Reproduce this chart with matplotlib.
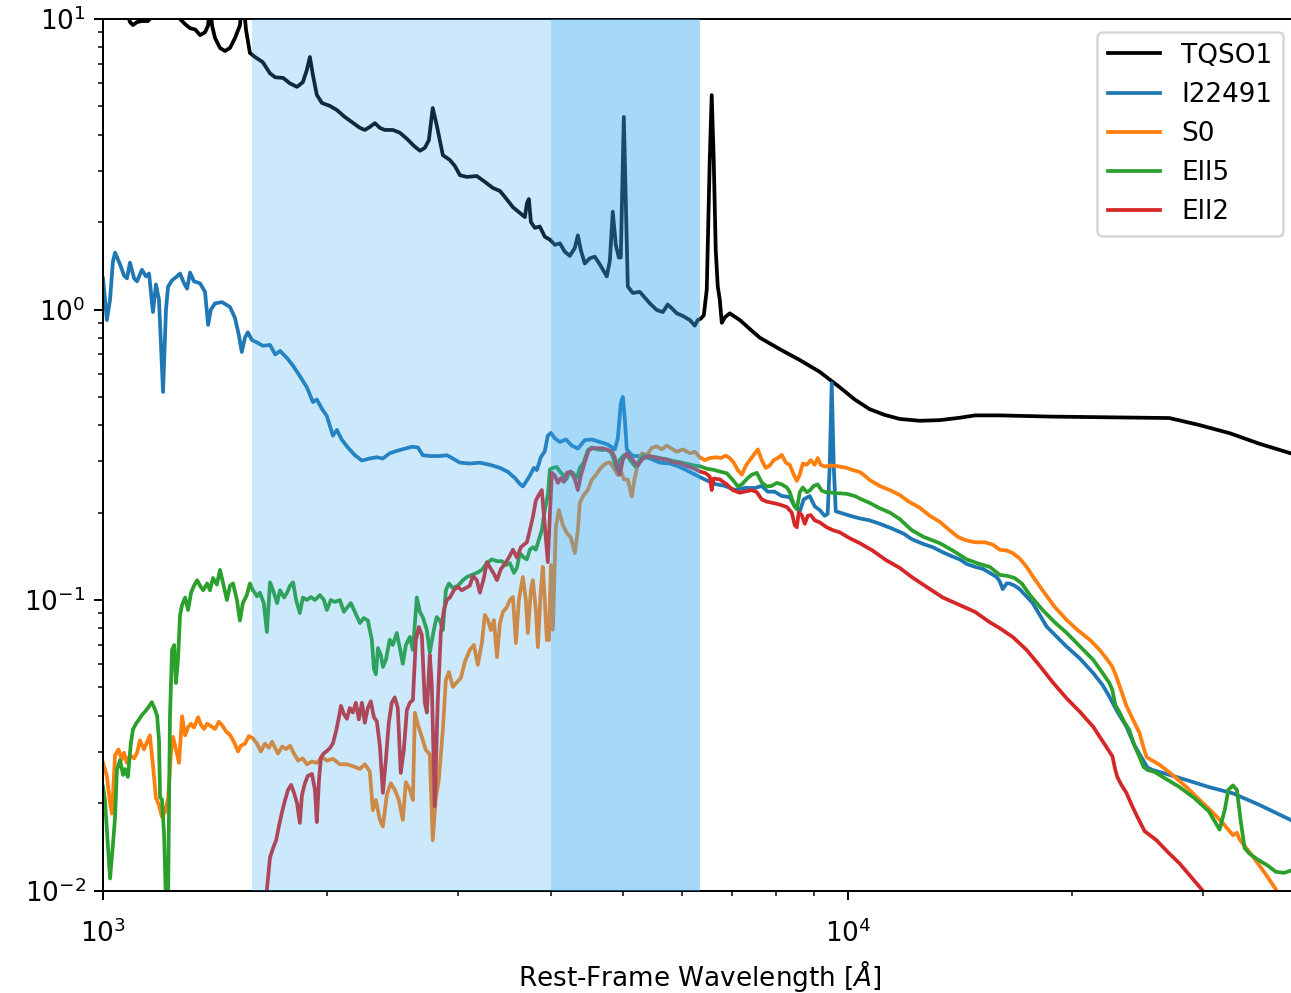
import matplotlib
matplotlib.use("Agg")
import matplotlib.pyplot as plt

plt.rcParams["font.size"] = 10.5

# Template SEDs (rest-frame wavelength in Angstrom, flux in arbitrary units)
wave_tqso1 = [1000, 1022, 1049, 1070, 1087, 1097, 1111, 1128, 1149, 1156, 1174, 1211, 1250, 1269,
              1289, 1309, 1330, 1350, 1371, 1384, 1392, 1401, 1414, 1436, 1458, 1481, 1504, 1527,
              1541, 1556, 1575, 1600, 1639, 1676, 1703, 1745, 1783, 1822, 1855, 1878, 1896, 1914,
              1937, 1968, 2017, 2061, 2112, 2158, 2213, 2247, 2282, 2318, 2354, 2390, 2450, 2504,
              2559, 2615, 2664, 2705, 2739, 2772, 2806, 2860, 2923, 2968, 3015, 3080, 3177, 3257,
              3339, 3412, 3465, 3552, 3629, 3686, 3709, 3731, 3755, 3802, 3860, 3920, 3982, 4044,
              4107, 4171, 4236, 4302, 4342, 4382, 4436, 4505, 4575, 4647, 4748, 4793, 4837, 4882,
              4928, 4958, 5005, 5035, 5067, 5145, 5259, 5340, 5424, 5542, 5646, 5733, 5805, 5896,
              6007, 6138, 6233, 6291, 6349, 6409, 6468, 6528, 6568, 6609, 6650, 6692, 6734, 6776,
              6840, 6945, 7164, 7389, 7620, 8107, 8624, 9172, 9757, 10220, 10700, 11200, 11745,
              12490, 13290, 14140, 14830, 16000, 18660, 21800, 27050, 29690, 32600, 35730, 39330]
flux_tqso1 = [12.5, 13.0, 12.0, 11.0, 9.76, 9.53, 9.76, 9.84, 9.84, 10.0, 10.8, 11.5, 10.6, 10.0,
              9.6, 9.3, 9.2, 8.8, 9.0, 9.5, 11.5, 9.5, 8.6, 7.95, 7.76, 7.95, 8.6, 9.5,
              12.0, 9.2, 7.64, 7.4, 7.1, 6.5, 6.3, 6.27, 6.0, 5.84, 6.06, 6.67, 7.4, 6.4,
              5.48, 5.14, 5.02, 4.86, 4.6, 4.42, 4.22, 4.15, 4.25, 4.38, 4.22, 4.15, 4.15, 4.06,
              3.87, 3.66, 3.52, 3.60, 3.83, 4.94, 4.32, 3.40, 3.27, 3.12, 2.90, 2.86, 2.88, 2.75,
              2.62, 2.56, 2.44, 2.25, 2.15, 2.08, 2.32, 2.40, 2.0, 1.91, 1.93, 1.78, 1.74, 1.67,
              1.69, 1.58, 1.53, 1.63, 1.80, 1.60, 1.44, 1.50, 1.52, 1.43, 1.30, 1.47, 2.17, 1.67,
              1.51, 1.51, 4.6, 2.38, 1.20, 1.14, 1.15, 1.10, 1.05, 0.996, 0.98, 1.04, 1.01, 0.97,
              0.95, 0.92, 0.88, 0.92, 0.93, 0.955, 1.17, 3.27, 5.47, 3.27, 1.6, 1.2, 1.08, 0.9,
              0.94, 0.97, 0.92, 0.857, 0.80, 0.73, 0.67, 0.61, 0.54, 0.49, 0.454, 0.434, 0.42,
              0.414, 0.416, 0.424, 0.432, 0.432, 0.428, 0.426, 0.423, 0.40, 0.375, 0.345, 0.32]

wave_i22491 = [1000, 1012, 1022, 1031, 1038, 1054, 1067, 1077, 1087, 1101, 1111, 1128, 1142, 1153,
               1167, 1178, 1189, 1204, 1215, 1223, 1238, 1257, 1269, 1285, 1297, 1309, 1325, 1350,
               1371, 1384, 1396, 1414, 1445, 1481, 1504, 1522, 1536, 1551, 1565, 1585, 1610, 1639,
               1676, 1703, 1729, 1767, 1800, 1838, 1878, 1914, 1937, 1968, 1998, 2036, 2061, 2093,
               2132, 2179, 2227, 2282, 2332, 2376, 2427, 2480, 2543, 2599, 2648, 2688, 2747, 2834,
               2896, 2950, 3015, 3109, 3207, 3308, 3412, 3498, 3574, 3629, 3663, 3709, 3743, 3790,
               3825, 3872, 3920, 3957, 3995, 4044, 4107, 4184, 4262, 4342, 4436, 4533, 4647, 4763,
               4867, 4913, 4958, 4989, 5020, 5051, 5145, 5291, 5424, 5594, 5770, 5951, 6138, 6330,
               6488, 6630, 6840, 7063, 7276, 7510, 7666, 7810, 7976, 8157, 8361, 8490, 8624, 8731,
               8893, 9032, 9172, 9315, 9400, 9460, 9519, 9578, 9638, 9818, 10070, 10378, 10700,
               11040, 11480, 11900, 12190, 12620, 13010, 13420, 13840, 14140, 14450, 14840, 15190,
               15520, 15850, 16000, 16150, 16350, 16500, 16760, 17020, 17720, 18500, 19690, 20490,
               21370, 21990, 22460, 23020, 23670, 24250, 24890, 25270, 25660, 27050, 28510, 30560,
               32910, 35730, 39330]
flux_i22491 = [1.28, 0.92, 1.08, 1.46, 1.57, 1.43, 1.31, 1.28, 1.45, 1.28, 1.25, 1.37, 1.30, 1.33,
               0.98, 1.22, 1.08, 0.52, 1.0, 1.20, 1.26, 1.30, 1.33, 1.23, 1.18, 1.34, 1.25, 1.23,
               1.15, 0.885, 1.0, 1.05, 1.06, 1.02, 0.935, 0.817, 0.714, 0.80, 0.835, 0.785, 0.77, 0.75,
               0.755, 0.70, 0.72, 0.68, 0.64, 0.59, 0.54, 0.48, 0.49, 0.455, 0.43, 0.368, 0.385, 0.356,
               0.335, 0.315, 0.302, 0.307, 0.31, 0.307, 0.32, 0.326, 0.332, 0.337, 0.335, 0.315, 0.313, 0.313,
               0.315, 0.307, 0.297, 0.295, 0.297, 0.292, 0.285, 0.276, 0.263, 0.251, 0.246, 0.258, 0.268, 0.285,
               0.280, 0.31, 0.325, 0.368, 0.376, 0.36, 0.35, 0.357, 0.34, 0.332, 0.355, 0.357, 0.35, 0.343,
               0.33, 0.36, 0.475, 0.50, 0.42, 0.33, 0.313, 0.313, 0.307, 0.297, 0.295, 0.287, 0.276, 0.265,
               0.257, 0.251, 0.247, 0.239, 0.243, 0.243, 0.247, 0.236, 0.236, 0.228, 0.226, 0.21, 0.202, 0.222,
               0.228, 0.21, 0.204, 0.195, 0.198, 0.29, 0.558, 0.29, 0.202, 0.199, 0.195, 0.191, 0.188,
               0.183, 0.176, 0.169, 0.162, 0.156, 0.152, 0.146, 0.141, 0.138, 0.133, 0.130, 0.128,
               0.124, 0.12, 0.116, 0.109, 0.114, 0.114, 0.112, 0.109, 0.0976, 0.081, 0.069, 0.063,
               0.056, 0.051, 0.0465, 0.0413, 0.0367, 0.0318, 0.0283, 0.0265, 0.026, 0.025, 0.024, 0.0227,
               0.0216, 0.0197, 0.0175]

wave_s0 = [1000, 1012, 1022, 1028, 1038, 1049, 1060, 1067, 1077, 1087, 1101, 1111, 1121, 1135,
           1146, 1156, 1167, 1178, 1189, 1200, 1211, 1223, 1234, 1242, 1253, 1265, 1277, 1289,
           1301, 1313, 1325, 1342, 1354, 1367, 1380, 1396, 1414, 1431, 1445, 1463, 1481, 1499,
           1518, 1531, 1551, 1570, 1590, 1610, 1629, 1650, 1670, 1687, 1703, 1718, 1740, 1762,
           1783, 1805, 1828, 1855, 1878, 1908, 1937, 1968, 1998, 2036, 2080, 2126, 2165, 2213,
           2247, 2282, 2303, 2325, 2354, 2376, 2405, 2435, 2465, 2496, 2527, 2551, 2583, 2607,
           2623, 2648, 2680, 2713, 2747, 2772, 2797, 2824, 2860, 2887, 2914, 2950, 2987, 3024,
           3061, 3109, 3148, 3187, 3227, 3257, 3287, 3318, 3349, 3381, 3412, 3444, 3487, 3519,
           3552, 3585, 3618, 3663, 3697, 3720, 3755, 3778, 3813, 3837, 3872, 3896, 3920, 3945,
           3970, 3995, 4019, 4056, 4094, 4145, 4197, 4249, 4302, 4342, 4368, 4422, 4477, 4533,
           4604, 4661, 4733, 4793, 4852, 4913, 4958, 5005, 5067, 5129, 5177, 5226, 5291, 5373,
           5457, 5542, 5628, 5715, 5805, 5896, 6007, 6138, 6233, 6330, 6429, 6528, 6650, 6755,
           6860, 6945, 7031, 7119, 7209, 7300, 7389, 7480, 7575, 7666, 7762, 7858, 7955, 8058,
           8157, 8259, 8361, 8465, 8545, 8624, 8704, 8812, 8920, 9032, 9115, 9200, 9315, 9460,
           9608, 9757, 9970, 10160, 10378, 10540, 10700, 11040, 11390, 11745, 12080, 12490, 12890,
           13290, 13700, 14060, 14360, 14830, 15280, 15670, 16000, 16350, 16660, 17020, 17390,
           17830, 18270, 18970, 19690, 20360, 21160, 21800, 22330, 22670, 22950, 23310, 23670,
           24110, 24660, 24970, 25200, 25660, 26230, 27300, 28510, 29690, 30900, 32000, 32910,
           33320, 33590, 35000, 36400, 37580, 38550]
flux_s0 = [0.0275, 0.0248, 0.020, 0.0184, 0.0292, 0.0306, 0.0282, 0.0298, 0.0275, 0.0292, 0.0285, 0.0298, 0.0329, 0.0306,
           0.0325, 0.0342, 0.027, 0.0208, 0.0197, 0.0179, 0.0186, 0.0208, 0.0298, 0.0338, 0.0306, 0.0275, 0.0398, 0.0342,
           0.0365, 0.0375, 0.0364, 0.0395, 0.0371, 0.036, 0.0375, 0.0368, 0.036, 0.0381, 0.0371, 0.0353, 0.0343, 0.0325,
           0.0301, 0.0315, 0.032, 0.034, 0.0334, 0.032, 0.0301, 0.032, 0.031, 0.0325, 0.0309, 0.0296, 0.0313, 0.0307,
           0.0315, 0.0296, 0.028, 0.0285, 0.0272, 0.0278, 0.0275, 0.0288, 0.028, 0.0284, 0.0272, 0.0272, 0.0268, 0.0262,
           0.0272, 0.0257, 0.0189, 0.0205, 0.0175, 0.0166, 0.0213, 0.0234, 0.0222, 0.0205, 0.0175, 0.0236, 0.0222, 0.0205,
           0.0409, 0.0372, 0.0338, 0.0305, 0.0294, 0.0149, 0.0205, 0.024, 0.0357, 0.0531, 0.0565, 0.0502, 0.0521, 0.0539,
           0.0612, 0.0673, 0.070, 0.0598, 0.0713, 0.0888, 0.0853, 0.0788, 0.0853, 0.0636, 0.0831, 0.0909, 0.0946, 0.1,
           0.1024, 0.0711, 0.1, 0.12, 0.1, 0.077, 0.108, 0.117, 0.0924, 0.0689, 0.108, 0.13, 0.1, 0.0728,
           0.0728, 0.1318, 0.079, 0.178, 0.204, 0.181, 0.17, 0.164, 0.145, 0.174, 0.216, 0.23, 0.239, 0.259,
           0.272, 0.285, 0.295, 0.298, 0.285, 0.269, 0.28, 0.26, 0.26, 0.227, 0.263, 0.293, 0.32, 0.315,
           0.334, 0.338, 0.33, 0.34, 0.332, 0.324, 0.33, 0.32, 0.324, 0.31, 0.303, 0.308, 0.31, 0.308,
           0.314, 0.308, 0.297, 0.28, 0.27, 0.29, 0.303, 0.316, 0.33, 0.303, 0.285, 0.29, 0.303, 0.308,
           0.316, 0.297, 0.292, 0.27, 0.257, 0.27, 0.295, 0.292, 0.303, 0.292, 0.308, 0.292, 0.288, 0.29,
           0.29, 0.288, 0.285, 0.28, 0.276, 0.268, 0.259, 0.247, 0.239, 0.23, 0.218, 0.208, 0.195,
           0.186, 0.174, 0.165, 0.161, 0.158, 0.158, 0.155, 0.149, 0.148, 0.145, 0.139, 0.13,
           0.118, 0.108, 0.0946, 0.0853, 0.0788, 0.0728, 0.0673, 0.0622, 0.0589, 0.0545, 0.0486, 0.0433,
           0.0392, 0.0348, 0.031, 0.0288, 0.028, 0.0271, 0.025, 0.0227, 0.0205, 0.0186, 0.0169, 0.0155,
           0.0158, 0.015, 0.0131, 0.0114, 0.0101, 0.009]

wave_ell5 = [1000, 1006, 1012, 1022, 1031, 1038, 1044, 1054, 1064, 1070, 1080, 1090, 1097, 1107,
             1118, 1128, 1139, 1149, 1156, 1163, 1174, 1182, 1189, 1193, 1200, 1208, 1215, 1223,
             1230, 1238, 1246, 1253, 1261, 1269, 1277, 1289, 1301, 1313, 1325, 1338, 1350, 1363,
             1380, 1392, 1405, 1422, 1436, 1450, 1467, 1481, 1495, 1513, 1527, 1541, 1560, 1575,
             1590, 1610, 1624, 1644, 1660, 1676, 1692, 1713, 1729, 1751, 1767, 1783, 1800, 1817,
             1838, 1855, 1878, 1902, 1926, 1956, 1980, 1998, 2023, 2048, 2080, 2106, 2126, 2152,
             2179, 2213, 2240, 2268, 2296, 2311, 2325, 2340, 2361, 2376, 2398, 2427, 2450, 2480,
             2504, 2527, 2551, 2583, 2607, 2639, 2664, 2688, 2722, 2747, 2781, 2806, 2834, 2860,
             2887, 2914, 2950, 2996, 3043, 3080, 3128, 3177, 3227, 3277, 3329, 3381, 3433, 3476,
             3519, 3563, 3596, 3629, 3674, 3709, 3743, 3778, 3813, 3848, 3884, 3920, 3957, 3982,
             4019, 4069, 4107, 4145, 4184, 4223, 4275, 4329, 4368, 4422, 4477, 4533, 4604, 4676,
             4748, 4808, 4852, 4898, 4943, 5005, 5067, 5129, 5193, 5259, 5324, 5407, 5509, 5594,
             5715, 5823, 5951, 6100, 6233, 6330, 6468, 6589, 6734, 6881, 7010, 7119, 7209, 7344,
             7434, 7551, 7666, 7786, 7906, 8032, 8157, 8284, 8361, 8465, 8545, 8624, 8704, 8812,
             8893, 9004, 9115, 9229, 9343, 9460, 9608, 9757, 9970, 10220, 10440, 10700, 11040,
             11390, 11745, 12190, 12640, 13290, 13840, 14450, 15040, 15520, 16000, 16400, 16760,
             17130, 17570, 18270, 18970, 19690, 20490, 21370, 21990, 22460, 22670, 22880, 23170,
             23530, 23890, 24250, 24660, 24970, 25270, 25820, 26630, 27900, 29220, 30560, 31580,
             32100, 32450, 32910, 33320, 33700, 34120, 34630, 35500, 36620, 37580, 38550, 39330]
flux_ell5 = [0.0228, 0.0205, 0.0162, 0.011, 0.0143, 0.0179, 0.026, 0.0281, 0.025, 0.0262, 0.0246, 0.0322, 0.0358, 0.0375,
             0.0388, 0.0402, 0.0413, 0.0425, 0.0435, 0.0445, 0.0421, 0.0400, 0.0330, 0.0209, 0.0206, 0.0155, 0.009, 0.0095,
             0.0395, 0.0673, 0.070, 0.0518, 0.0622, 0.0888, 0.0961, 0.102, 0.0924, 0.106, 0.112, 0.117, 0.112, 0.108,
             0.114, 0.108, 0.119, 0.113, 0.127, 0.114, 0.1, 0.112, 0.114, 0.1, 0.085, 0.0976, 0.104, 0.114,
             0.108, 0.103, 0.106, 0.0976, 0.0776, 0.115, 0.108, 0.0976, 0.108, 0.102, 0.106, 0.112, 0.115, 0.1,
             0.0902, 0.102, 0.1, 0.1024, 0.1, 0.104, 0.1, 0.0924, 0.1, 0.0985, 0.1, 0.091, 0.094, 0.0976,
             0.091, 0.0833, 0.0867, 0.085, 0.073, 0.058, 0.0555, 0.0683, 0.0647, 0.0588, 0.0622, 0.073, 0.07, 0.077,
             0.0683, 0.0603, 0.07, 0.0746, 0.0673, 0.102, 0.091, 0.0873, 0.0788, 0.066, 0.0788, 0.0873, 0.085, 0.0788,
             0.108, 0.114, 0.11, 0.112, 0.117, 0.12, 0.122, 0.124, 0.127, 0.134, 0.138, 0.136, 0.136, 0.132,
             0.134, 0.124, 0.129, 0.145, 0.14, 0.138, 0.149, 0.152, 0.149, 0.161, 0.174, 0.204, 0.23, 0.281,
             0.285, 0.287, 0.277, 0.27, 0.259, 0.272, 0.274, 0.263, 0.285, 0.298, 0.328, 0.335, 0.33, 0.328,
             0.33, 0.323, 0.304, 0.281, 0.304, 0.315, 0.311, 0.298, 0.287, 0.304, 0.315, 0.311, 0.311, 0.308,
             0.305, 0.301, 0.298, 0.294, 0.29, 0.289, 0.283, 0.281, 0.277, 0.273, 0.259, 0.246, 0.25, 0.263,
             0.27, 0.274, 0.254, 0.246, 0.247, 0.253, 0.25, 0.244, 0.235, 0.213, 0.205, 0.235, 0.244, 0.235,
             0.238, 0.247, 0.25, 0.238, 0.235, 0.235, 0.233, 0.233, 0.232, 0.228, 0.222, 0.216, 0.207,
             0.2, 0.19, 0.174, 0.165, 0.157, 0.148, 0.138, 0.133, 0.13, 0.122, 0.121, 0.119,
             0.114, 0.104, 0.0924, 0.0838, 0.077, 0.0694, 0.0622, 0.0561, 0.0518, 0.049, 0.0435, 0.0411,
             0.038, 0.0357, 0.0317, 0.0288, 0.0266, 0.026, 0.0256, 0.0244, 0.0227, 0.0208, 0.0187, 0.0162,
             0.019, 0.0222, 0.023, 0.0222, 0.0175, 0.014, 0.0134, 0.0128, 0.0122, 0.0116, 0.0115, 0.0117]

wave_ell2 = [1655, 1665, 1676, 1692, 1708, 1724, 1740, 1756, 1772, 1789, 1805, 1822, 1838, 1850,
             1867, 1884, 1908, 1926, 1937, 1950, 1962, 1980, 1998, 2017, 2036, 2055, 2074, 2087,
             2106, 2126, 2145, 2165, 2186, 2206, 2227, 2247, 2268, 2289, 2311, 2332, 2354, 2376,
             2398, 2420, 2442, 2465, 2488, 2511, 2535, 2559, 2583, 2607, 2631, 2656, 2680, 2705,
             2722, 2747, 2764, 2789, 2815, 2842, 2869, 2896, 2923, 2959, 2996, 3033, 3070, 3109,
             3138, 3177, 3207, 3247, 3277, 3318, 3349, 3381, 3423, 3465, 3508, 3552, 3596, 3641,
             3674, 3709, 3743, 3778, 3813, 3848, 3884, 3920, 3957, 3982, 4007, 4044, 4082, 4120,
             4158, 4197, 4249, 4302, 4342, 4382, 4436, 4491, 4547, 4618, 4690, 4763, 4822, 4867,
             4913, 4943, 4989, 5051, 5113, 5177, 5226, 5291, 5357, 5440, 5525, 5628, 5715, 5823,
             5951, 6081, 6214, 6330, 6449, 6528, 6568, 6609, 6734, 6881, 7010, 7164, 7322, 7434,
             7551, 7666, 7786, 7930, 8107, 8284, 8413, 8490, 8545, 8597, 8678, 8758, 8840, 8920,
             9032, 9172, 9372, 9549, 9757, 10070, 10378, 10800, 11270, 11745, 12190, 12760, 13420,
             14140, 14830, 15520, 16000, 16660, 17390, 18100, 18840, 19690, 20490, 21370, 22130,
             22670, 22880, 23020, 23310, 23670, 24110, 24660, 25050, 25980, 26880, 27900, 28770,
             29870, 30560]
flux_ell2 = [0.0093, 0.0109, 0.0130, 0.0140, 0.0149, 0.0168, 0.0187, 0.0205, 0.0222, 0.0231, 0.0217, 0.0200, 0.0171, 0.0213,
             0.0234, 0.0248, 0.0252, 0.0222, 0.0172, 0.024, 0.0287, 0.0297, 0.0302, 0.0309, 0.0321, 0.0352, 0.0395, 0.0432,
             0.0405, 0.0390, 0.0425, 0.041, 0.0443, 0.0388, 0.0443, 0.0378, 0.0425, 0.0448, 0.0395, 0.0382, 0.0315, 0.0217,
             0.0281, 0.0378, 0.0443, 0.0462, 0.0425, 0.0254, 0.0305, 0.0418, 0.0443, 0.0453, 0.0728, 0.0807, 0.0758, 0.0443,
             0.041, 0.0647, 0.0512, 0.0195, 0.0443, 0.077, 0.0924, 0.10, 0.102, 0.108, 0.111, 0.108, 0.11, 0.112,
             0.121, 0.117, 0.106, 0.119, 0.135, 0.128, 0.123, 0.117, 0.128, 0.133, 0.14, 0.149, 0.14, 0.152,
             0.155, 0.158, 0.174, 0.193, 0.22, 0.23, 0.239, 0.18, 0.135, 0.196, 0.274, 0.268, 0.253, 0.263,
             0.255, 0.274, 0.277, 0.26, 0.239, 0.268, 0.298, 0.328, 0.333, 0.333, 0.333, 0.328, 0.325, 0.309,
             0.281, 0.27, 0.304, 0.32, 0.309, 0.298, 0.29, 0.304, 0.311, 0.313, 0.308, 0.306, 0.304, 0.298,
             0.296, 0.289, 0.284, 0.277, 0.273, 0.266, 0.239, 0.262, 0.26, 0.25, 0.239, 0.234, 0.237, 0.239,
             0.235, 0.222, 0.218, 0.216, 0.213, 0.209, 0.20, 0.181, 0.178, 0.20, 0.196, 0.183, 0.195, 0.196,
             0.188, 0.185, 0.178, 0.174, 0.171, 0.163, 0.157, 0.148, 0.137, 0.129, 0.12, 0.111, 0.102,
             0.0961, 0.091, 0.0838, 0.08, 0.0746, 0.0673, 0.0595, 0.0522, 0.0458, 0.0413, 0.0366, 0.0319,
             0.029, 0.026, 0.0246, 0.0231, 0.0217, 0.0195, 0.0173, 0.016, 0.0149, 0.0136, 0.0124, 0.0113,
             0.0101, 0.0092]

# shaded wavelength ranges
band_wide = (1585, 6340)
band_narrow = (4000, 6340)

fig = plt.figure(figsize=(1291 / 180, 993 / 180), dpi=180)
ax = fig.add_axes([103 / 1291, 102.5 / 993, 1193 / 1291, 871.5 / 993])

ax.plot(wave_tqso1, flux_tqso1, color="k", label="TQSO1")
ax.plot(wave_i22491, flux_i22491, color="C0", label="I22491")
ax.plot(wave_s0, flux_s0, color="C1", label="S0")
ax.plot(wave_ell5, flux_ell5, color="C2", label="Ell5")
ax.plot(wave_ell2, flux_ell2, color="C3", label="Ell2")

# bands drawn over the curves, as in the original
span_color = (55 / 255, 169 / 255, 243 / 255)
ax.axvspan(*band_wide, color=span_color, alpha=0.255, lw=0, zorder=3)
ax.axvspan(*band_narrow, color=span_color, alpha=0.255, lw=0, zorder=3)

ax.set_xscale("log")
ax.set_yscale("log")
ax.set_xlim(1000, 40000)
ax.set_ylim(0.01, 10)
ax.tick_params(axis="x", which="major", pad=8)
ax.set_xlabel(r"Rest-Frame Wavelength [$\AA$]", labelpad=4)
ax.legend(loc="upper right")

fig.savefig("out.png", dpi=180)
